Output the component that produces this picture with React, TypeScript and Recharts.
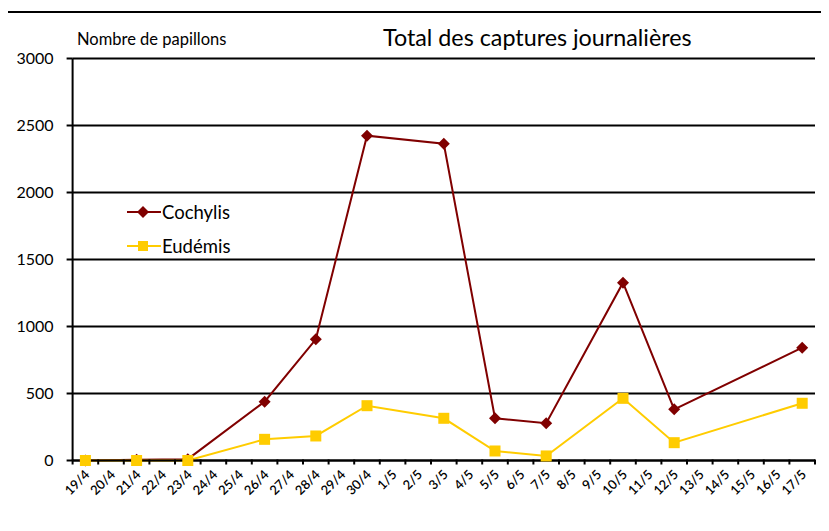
import { CartesianGrid, Legend, Line, LineChart, XAxis, YAxis } from 'recharts';

const categories = [
  '19/4', '20/4', '21/4', '22/4', '23/4', '24/4', '25/4', '26/4', '27/4', '28/4',
  '29/4', '30/4', '1/5', '2/5', '3/5', '4/5', '5/5', '6/5', '7/5', '8/5',
  '9/5', '10/5', '11/5', '12/5', '13/5', '14/5', '15/5', '16/5', '17/5',
];
const cochylis = [0, null, 5, null, 10, null, null, 439, null, 904, null, 2424, null, null, 2364, null, 315, null, 278, null, null, 1327, null, 382, null, null, null, null, 842];
const eudemis = [0, null, 0, null, 0, null, null, 158, null, 183, null, 409, null, null, 315, null, 71, null, 34, null, null, 464, null, 133, null, null, null, null, 427];
const yTicks = [0, 500, 1000, 1500, 2000, 2500, 3000];

const RED = '#800000';
const GOLD = '#FFCC00';
const FONT = 'Lato, "Open Sans", sans-serif';
const HALF = 12.8;

const data = categories.map((day, i) => ({ day, Cochylis: cochylis[i], Eudémis: eudemis[i] }));

const Diamond = ({ cx, cy }: any) =>
  cx == null || cy == null ? null : (
    <polygon points={`${cx},${cy - 6} ${cx + 6},${cy} ${cx},${cy + 6} ${cx - 6},${cy}`} fill={RED} />
  );

const Square = ({ cx, cy }: any) =>
  cx == null || cy == null ? null : <rect x={cx - 5.5} y={cy - 5.5} width={11} height={11} fill={GOLD} />;

function XTick({ x, y, payload, index }: any) {
  const last = index === categories.length - 1;
  return (
    <g>
      <line x1={x - HALF} x2={x - HALF} y1={y - 1} y2={y + 4} stroke="#000" strokeWidth={2} />
      {last && <line x1={x + HALF} x2={x + HALF} y1={y - 1} y2={y + 4} stroke="#000" strokeWidth={2} />}
      <text
        transform={`translate(${x + 5}, ${y + 15}) rotate(-45)`}
        textAnchor="end"
        fontSize={13}
        fontWeight={600}
        fontFamily={FONT}
        fill="#000"
      >
        {payload.value}
      </text>
    </g>
  );
}

function LegendBox({ payload }: any) {
  return (
    <div>
      {(payload || []).map((p: any) => (
        <div key={p.value} style={{ display: 'flex', alignItems: 'center', height: 34 }}>
          <svg width={36} height={14}>
            <line x1={2} x2={36} y1={7} y2={7} stroke={p.color} strokeWidth={2} />
            {p.value === 'Cochylis' ? (
              <polygon points="18,1 24,7 18,13 12,7" fill={RED} />
            ) : (
              <rect x={13} y={2} width={10} height={10} fill={GOLD} />
            )}
          </svg>
          <span style={{ fontFamily: FONT, fontSize: 18.5, color: '#000', marginLeft: 1 }}>{p.value}</span>
        </div>
      ))}
    </div>
  );
}

export default function App() {
  return (
    <div style={{ position: 'relative', width: 829, height: 531, margin: -8, overflow: 'hidden', background: '#fff' }}>
      <div
        style={{
          position: 'absolute', left: 6, top: 11, width: 840, height: 540,
          borderTop: '2px solid #000', borderLeft: '2px solid #000',
        }}
      />
      <div style={{ position: 'absolute', left: 77, top: 29, fontFamily: FONT, fontSize: 16.5, color: '#000' }}>
        Nombre de papillons
      </div>
      <div style={{ position: 'absolute', left: 383, top: 23, fontFamily: FONT, fontSize: 23.3, color: '#000' }}>
        Total des captures journalières
      </div>
      <div style={{ position: 'absolute', left: 0, top: 0 }}>
        <LineChart width={829} height={531} data={data} margin={{ top: 58.5, right: 14, bottom: 10.5, left: 0 }}>
          <CartesianGrid vertical={false} stroke="#000" strokeWidth={2} />
          <XAxis
            dataKey="day"
            interval={0}
            height={60}
            padding={{ left: HALF, right: HALF }}
            axisLine={{ stroke: '#000', strokeWidth: 2 }}
            tickLine={false}
            tickSize={0}
            tickMargin={0}
            tick={<XTick />}
          />
          <YAxis
            width={72.6}
            domain={[0, 3000]}
            ticks={yTicks}
            interval={0}
            axisLine={{ stroke: '#000', strokeWidth: 2 }}
            tickLine={{ stroke: '#000', strokeWidth: 2 }}
            tickSize={6}
            tickMargin={13}
            tick={{ fill: '#000', fontSize: 16, fontFamily: FONT }}
          />
          <Legend
            layout="vertical"
            verticalAlign="middle"
            align="center"
            content={<LegendBox />}
            wrapperStyle={{ position: 'absolute', left: 125, top: 195, width: 140 }}
          />
          <Line
            dataKey="Cochylis"
            stroke={RED}
            strokeWidth={2}
            connectNulls
            dot={<Diamond />}
            activeDot={false}
            isAnimationActive={false}
          />
          <Line
            dataKey="Eudémis"
            stroke={GOLD}
            strokeWidth={2}
            connectNulls
            dot={<Square />}
            activeDot={false}
            isAnimationActive={false}
          />
        </LineChart>
      </div>
    </div>
  );
}
